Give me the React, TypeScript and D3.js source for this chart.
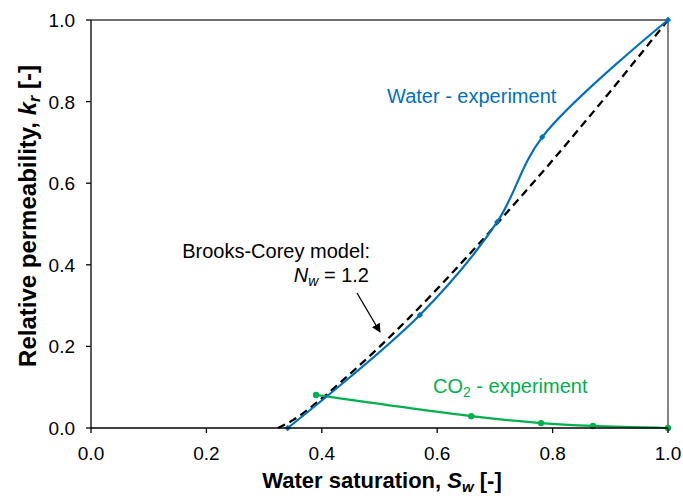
import React from "react";
import * as d3 from "d3";

const waterSw = [0.341, 0.57, 0.704, 0.782, 1.0];
const waterKr = [0.0, 0.277, 0.505, 0.713, 1.0];

const co2Sw = [0.39, 0.659, 0.78, 0.87, 1.0];
const co2Kr = [0.081, 0.029, 0.012, 0.005, 0.0];

const bcSw = [0.324, 0.35, 0.4, 0.45, 0.5, 0.55, 0.6, 0.65, 0.7, 0.75, 0.8, 0.85, 0.9, 0.95, 1.0];
const bcKr = [0.0, 0.0193, 0.0726, 0.134, 0.199, 0.268, 0.341, 0.417, 0.495, 0.575, 0.656, 0.74, 0.825, 0.912, 1.0];

const xTicks = [0, 0.2, 0.4, 0.6, 0.8, 1.0];
const yTicks = [0, 0.2, 0.4, 0.6, 0.8, 1.0];

const BLUE = "#0070C0";
const GREEN = "#00B050";
const FONT = "'Liberation Sans', Arial, sans-serif";

export default function App() {
  const W = 683, H = 498;
  const x = d3.scaleLinear().domain([0, 1]).range([91, 668]);
  const y = d3.scaleLinear().domain([0, 1]).range([428, 20]);

  const smooth = d3
    .line<[number, number]>()
    .x((d) => x(d[0]))
    .y((d) => y(d[1]))
    .curve(d3.curveCatmullRom.alpha(0.5));
  const straight = d3
    .line<[number, number]>()
    .x((d) => x(d[0]))
    .y((d) => y(d[1]))
    .curve(d3.curveMonotoneX);

  const water = waterSw.map((s, i) => [s, waterKr[i]] as [number, number]);
  const co2 = co2Sw.map((s, i) => [s, co2Kr[i]] as [number, number]);
  const bc = bcSw.map((s, i) => [s, bcKr[i]] as [number, number]);

  return (
    <svg
      width={W}
      height={H}
      style={{ position: "absolute", left: 0, top: 0, background: "#fff" }}
      fontFamily={FONT}
    >
      <defs>
        <marker id="arr" viewBox="0 0 10 10" refX="9" refY="5" markerWidth="9" markerHeight="9" orient="auto" markerUnits="userSpaceOnUse">
          <path d="M0,0 L10,5 L0,10 z" fill="#000" />
        </marker>
      </defs>

      {/* frame */}
      <line x1={x(0)} x2={x(1)} y1={y(1)} y2={y(1)} stroke="#404040" strokeWidth={1.3} />
      <line x1={x(1)} x2={x(1)} y1={y(1)} y2={y(0)} stroke="#404040" strokeWidth={1.3} />

      {/* dashed Brooks-Corey */}
      <path d={straight(bc) || ""} fill="none" stroke="#000" strokeWidth={2.3} strokeDasharray="8,5" />

      {/* CO2 */}
      <path d={smooth(co2) || ""} fill="none" stroke={GREEN} strokeWidth={2.2} />
      {co2.map((d, i) => (
        <circle key={i} cx={x(d[0])} cy={y(d[1])} r={3.2} fill={GREEN} />
      ))}

      {/* Water */}
      <path d={smooth(water) || ""} fill="none" stroke={BLUE} strokeWidth={2.2} />
      {water.map((d, i) => (
        <path
          key={i}
          d={d3.symbol().type(d3.symbolSquare).size(20)() || ""}
          transform={`translate(${x(d[0])},${y(d[1])}) rotate(45)`}
          fill={BLUE}
        />
      ))}

      {/* axes */}
      <line x1={x(0)} x2={x(0)} y1={y(0)} y2={y(1)} stroke="#000" strokeWidth={1.3} />
      <line x1={x(0)} x2={x(1)} y1={y(0)} y2={y(0)} stroke="#000" strokeWidth={1.3} />
      {xTicks.map((t) => (
        <g key={"x" + t}>
          <line x1={x(t)} x2={x(t)} y1={y(0)} y2={y(0) + 5} stroke="#000" strokeWidth={1.3} />
          <text x={x(t)} y={460} textAnchor="middle" fontSize={19} fill="#000">
            {t.toFixed(1)}
          </text>
        </g>
      ))}
      {yTicks.map((t) => (
        <g key={"y" + t}>
          <line x1={x(0) - 5} x2={x(0)} y1={y(t)} y2={y(t)} stroke="#000" strokeWidth={1.3} />
          <text x={75} y={y(t) + 7} textAnchor="end" fontSize={19} fill="#000">
            {t.toFixed(1)}
          </text>
        </g>
      ))}

      {/* axis titles */}
      <text x={382} y={488} textAnchor="middle" fontSize={22} fontWeight="bold" fill="#000">
        Water saturation, <tspan fontStyle="italic">S</tspan>
        <tspan fontStyle="italic" fontSize={15} dy={4}>w</tspan>
        <tspan dy={-4}> [-]</tspan>
      </text>
      <text
        transform={`translate(36,216) rotate(-90)`}
        textAnchor="middle"
        fontSize={24}
        fontWeight="bold"
        fill="#000"
      >
        Relative permeability, <tspan fontStyle="italic">k</tspan>
        <tspan fontStyle="italic" fontSize={16} dy={4}>r</tspan>
        <tspan dy={-4}> [-]</tspan>
      </text>

      {/* annotations */}
      <text x={387} y={103} fontSize={20} fill={BLUE}>
        Water - experiment
      </text>
      <text x={433} y={393} fontSize={20} fill={GREEN}>
        CO<tspan fontSize={14} dy={4}>2</tspan>
        <tspan dy={-4}> - experiment</tspan>
      </text>
      <text x={370} y={258} textAnchor="end" fontSize={20} fill="#000">
        Brooks-Corey model:
      </text>
      <text x={369} y={282} textAnchor="end" fontSize={20} fill="#000">
        <tspan fontStyle="italic">N</tspan>
        <tspan fontStyle="italic" fontSize={14} dy={4}>w</tspan>
        <tspan dy={-4}> = 1.2</tspan>
      </text>
      <line x1={357} y1={293} x2={380} y2={332} stroke="#000" strokeWidth={1.3} markerEnd="url(#arr)" />
    </svg>
  );
}
